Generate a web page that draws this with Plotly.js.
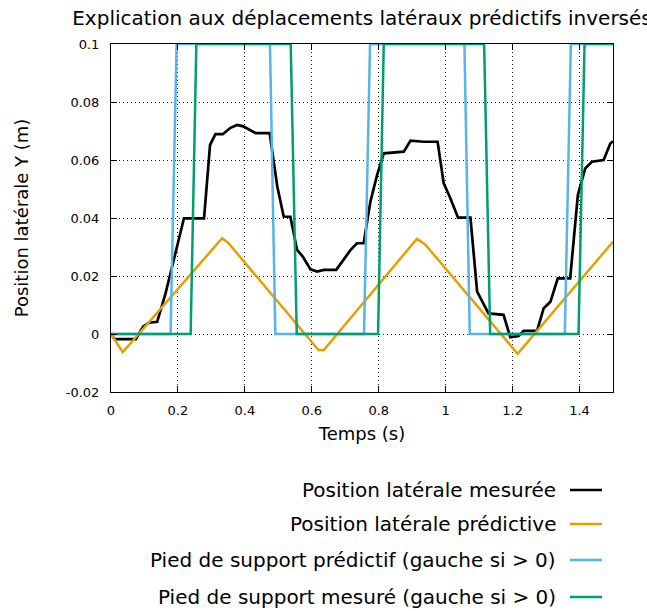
<!DOCTYPE html>
<html>
<head>
<meta charset="utf-8">
<script src="https://cdn.plot.ly/plotly-3.0.1.min.js"></script>
<style>html,body{margin:0;padding:0;background:#fff;}#chart{width:647px;height:611px;}</style>
</head>
<body>
<div id="chart"></div>
<script>
// ---- data ----
const seriesNames = [
  "Position latérale mesurée",
  "Position latérale prédictive",
  "Pied de support prédictif (gauche si > 0)",
  "Pied de support mesuré (gauche si > 0)"
];
const seriesColors = ["#000000", "#E69F00", "#56B4E9", "#009E73"];

const measuredT = [0, 0.011, 0.074, 0.096, 0.113, 0.138, 0.163, 0.183, 0.218, 0.278, 0.296, 0.312, 0.334, 0.357, 0.377, 0.395, 0.432, 0.474, 0.497, 0.516, 0.536, 0.556, 0.573, 0.596, 0.616, 0.636, 0.673, 0.716, 0.735, 0.755, 0.775, 0.795, 0.815, 0.875, 0.895, 0.934, 0.976, 0.994, 1.014, 1.037, 1.074, 1.094, 1.128, 1.173, 1.193, 1.218, 1.233, 1.273, 1.293, 1.313, 1.335, 1.372, 1.395, 1.417, 1.437, 1.472, 1.492, 1.5];
const measuredY = [0, -0.0018, -0.0018, 0.0025, 0.0039, 0.0042, 0.014, 0.0232, 0.0399, 0.0399, 0.0652, 0.0689, 0.0689, 0.0711, 0.0721, 0.0716, 0.0693, 0.0693, 0.0508, 0.0405, 0.0404, 0.029, 0.0267, 0.0223, 0.0215, 0.0221, 0.0221, 0.029, 0.0313, 0.0313, 0.0456, 0.0548, 0.0623, 0.0629, 0.0667, 0.0663, 0.0663, 0.052, 0.0468, 0.0401, 0.0401, 0.0146, 0.0071, 0.0066, -0.0011, -0.0007, 0.0011, 0.0011, 0.0089, 0.0111, 0.0192, 0.0192, 0.0479, 0.0571, 0.0594, 0.06, 0.0657, 0.0665];

const predictiveT = [0, 0.035, 0.332, 0.352, 0.62, 0.636, 0.914, 0.938, 1.215, 1.5];
const predictiveY = [0, -0.0063, 0.033, 0.0312, -0.0055, -0.0055, 0.0328, 0.031, -0.0068, 0.0318];

const footPredT = [0, 0.178, 0.196, 0.475, 0.491, 0.756, 0.774, 1.056, 1.072, 1.356, 1.374, 1.5];
const footPredY = [0, 0, 0.1, 0.1, 0, 0, 0.1, 0.1, 0, 0, 0.1, 0.1];

const footMeasT = [0, 0.238, 0.255, 0.537, 0.555, 0.798, 0.815, 1.115, 1.133, 1.397, 1.415, 1.5];
const footMeasY = [0, 0, 0.1, 0.1, 0, 0, 0.1, 0.1, 0, 0, 0.1, 0.1];

const xTickVals = [0, 0.2, 0.4, 0.6, 0.8, 1, 1.2, 1.4];
const xTickText = ["0", "0.2", "0.4", "0.6", "0.8", "1", "1.2", "1.4"];
const yTickVals = [-0.02, 0, 0.02, 0.04, 0.06, 0.08, 0.1];
const yTickText = ["-0.02", "0", "0.02", "0.04", "0.06", "0.08", "0.1"];

// ---- traces ----
const xs = [measuredT, predictiveT, footPredT, footMeasT];
const ys = [measuredY, predictiveY, footPredY, footMeasY];
const traces = xs.map((x, i) => ({
  x: x, y: ys[i], type: "scatter", mode: "lines", name: seriesNames[i],
  line: {color: seriesColors[i], width: i === 0 ? 2.7 : 2.5},
  showlegend: false, hoverinfo: "skip"
}));

// ---- legend (text right-aligned, sample on the right, like gnuplot) ----
const legendRowsPx = [490, 524, 560, 597];
const plotTop = 44, plotBottom = 392, plotLeft = 111, plotRight = 613;
const py = p => (plotBottom - p) / (plotBottom - plotTop);
const px = p => (p - plotLeft) / (plotRight - plotLeft);
const annotations = seriesNames.map((n, i) => ({
  text: n, xref: "paper", yref: "paper", x: px(558), y: py(legendRowsPx[i]),
  xanchor: "right", yanchor: "middle", showarrow: false,
  font: {family: "DejaVu Sans", size: 20, color: "#000"}
}));
const shapes = seriesNames.map((n, i) => ({
  type: "line", xref: "paper", yref: "paper",
  x0: px(570), x1: px(602), y0: py(legendRowsPx[i]), y1: py(legendRowsPx[i]),
  line: {color: seriesColors[i], width: 2.5}
}));

const axisCommon = {
  showline: true, linecolor: "#000", linewidth: 1, mirror: "ticks",
  ticks: "inside", ticklen: 6, tickcolor: "#000", tickwidth: 1,
  showgrid: true, gridcolor: "#222", griddash: "1px,3px", gridwidth: 1,
  zeroline: false, tickfont: {family: "DejaVu Sans", size: 13, color: "#000"}
};

const layout = {
  width: 647, height: 611,
  margin: {l: plotLeft, r: 647 - plotRight, t: plotTop, b: 611 - plotBottom},
  paper_bgcolor: "#fff", plot_bgcolor: "#fff",
  font: {family: "DejaVu Sans", color: "#000"},
  title: {text: "Explication aux déplacements latéraux prédictifs inversés",
          font: {family: "DejaVu Sans", size: 20, color: "#000"},
          xref: "paper", x: 0.5, xanchor: "center", y: 1 - 18 / 611, yanchor: "middle"},
  xaxis: Object.assign({}, axisCommon, {
    range: [0, 1.5], tickmode: "array", tickvals: xTickVals, ticktext: xTickText,
    ticklabelstandoff: 6,
    title: {text: "Temps (s)", font: {family: "DejaVu Sans", size: 18, color: "#000"}, standoff: 10}
  }),
  yaxis: Object.assign({}, axisCommon, {
    range: [-0.02, 0.1], tickmode: "array", tickvals: yTickVals, ticktext: yTickText,
    ticklabelstandoff: 8,
    title: {text: "Position latérale Y (m)", font: {family: "DejaVu Sans", size: 18, color: "#000"}, standoff: 32}
  }),
  annotations: annotations,
  shapes: shapes
};

Plotly.newPlot("chart", traces, layout, {staticPlot: true, displayModeBar: false});
</script>
</body>
</html>
